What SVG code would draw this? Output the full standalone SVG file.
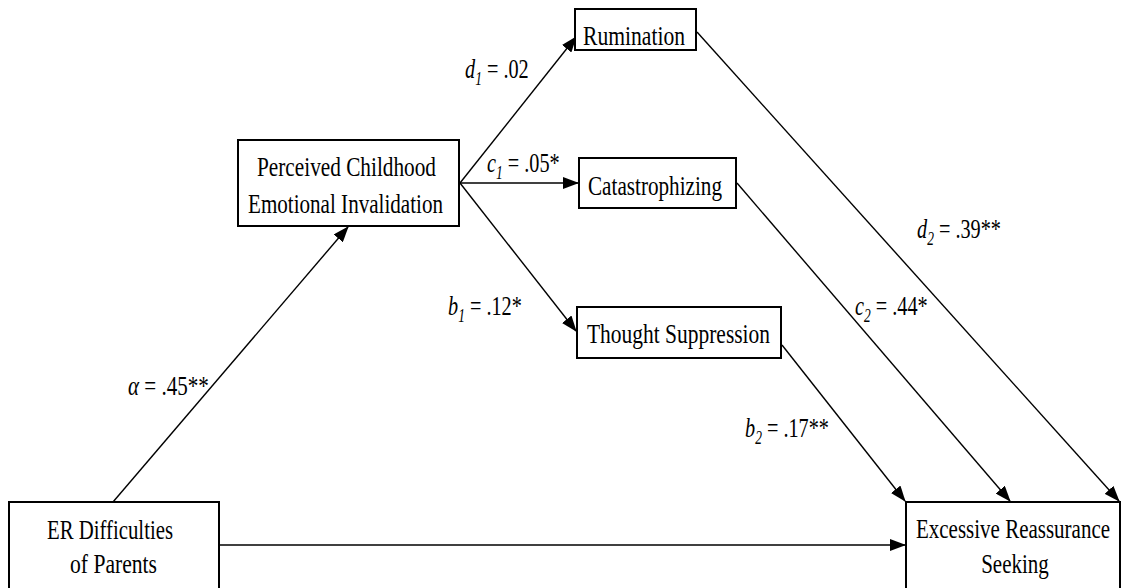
<svg xmlns="http://www.w3.org/2000/svg" width="1123" height="588" viewBox="0 0 1123 588">
<style>
text{font-family:"Liberation Serif","Times New Roman",serif;fill:#000}
.box{fill:#fff;stroke:#000;stroke-width:2}
.nt{font-size:28px}
.lb{font-size:27px}
.it{font-style:italic}
.sub{font-size:18px;font-style:italic}
.edge{stroke:#000;stroke-width:1.4;fill:none;marker-end:url(#ah)}
</style>
<defs>
<marker id="ah" markerUnits="userSpaceOnUse" markerWidth="16" markerHeight="12" viewBox="0 0 16 12" refX="15" refY="6" orient="auto">
<path d="M0,0 L16,6 L0,12 z" fill="#000"/>
</marker>
</defs>
<rect width="1123" height="588" fill="#fff"/>
<g id="connectors">
<line class="edge" x1="113" y1="502" x2="348" y2="227"/>
<line class="edge" x1="460" y1="183" x2="576" y2="37"/>
<line class="edge" x1="460" y1="183" x2="578" y2="183"/>
<line class="edge" x1="460" y1="183" x2="576" y2="331"/>
<line class="edge" x1="697" y1="32" x2="1119" y2="501"/>
<line class="edge" x1="737" y1="183" x2="1010" y2="501"/>
<line class="edge" x1="782" y1="345" x2="905" y2="501"/>
<line class="edge" x1="220" y1="545" x2="905" y2="545"/>
</g>
<g id="labels">
<text class="lb" transform="translate(465,78) scale(0.75,1)"><tspan class="it">d</tspan><tspan class="sub" dy="7">1</tspan><tspan dy="-7"> = .02</tspan></text>
<text class="lb" transform="translate(487,172) scale(0.75,1)"><tspan class="it">c</tspan><tspan class="sub" dy="7">1</tspan><tspan dy="-7"> = .05*</tspan></text>
<text class="lb" transform="translate(448,315) scale(0.75,1)"><tspan class="it">b</tspan><tspan class="sub" dy="7">1</tspan><tspan dy="-7"> = .12*</tspan></text>
<text class="lb" transform="translate(128,395) scale(0.78,1)"><tspan class="it">α</tspan> = .45**</text>
<text class="lb" transform="translate(917,238) scale(0.75,1)"><tspan class="it">d</tspan><tspan class="sub" dy="7">2</tspan><tspan dy="-7"> = .39**</tspan></text>
<text class="lb" transform="translate(855,315) scale(0.75,1)"><tspan class="it">c</tspan><tspan class="sub" dy="7">2</tspan><tspan dy="-7"> = .44*</tspan></text>
<text class="lb" transform="translate(745,437) scale(0.75,1)"><tspan class="it">b</tspan><tspan class="sub" dy="7">2</tspan><tspan dy="-7"> = .17**</tspan></text>
</g>
<g id="node-er">
<rect class="box" x="9" y="502" width="210" height="100"/>
<text class="nt" x="47" y="539" textLength="126" lengthAdjust="spacingAndGlyphs">ER Difficulties</text>
<text class="nt" x="70" y="573" textLength="87" lengthAdjust="spacingAndGlyphs">of Parents</text>
</g>
<g id="node-ers">
<rect class="box" x="906" y="502" width="214" height="100"/>
<text class="nt" text-anchor="middle" transform="translate(1013,538) scale(0.75,1)">Excessive Reassurance</text>
<text class="nt" text-anchor="middle" transform="translate(1015,573) scale(0.75,1)">Seeking</text>
</g>
<g id="node-pcei">
<rect class="box" x="238" y="140" width="221" height="86"/>
<text class="nt" x="257" y="176" textLength="179" lengthAdjust="spacingAndGlyphs">Perceived Childhood</text>
<text class="nt" x="248" y="213" textLength="195" lengthAdjust="spacingAndGlyphs">Emotional Invalidation</text>
</g>
<g id="node-rumination">
<rect class="box" x="575" y="9" width="121" height="41"/>
<text class="nt" x="583" y="45" textLength="102" lengthAdjust="spacingAndGlyphs">Rumination</text>
</g>
<g id="node-catastrophizing">
<rect class="box" x="579" y="158" width="157" height="50"/>
<text class="nt" x="588" y="195" textLength="134" lengthAdjust="spacingAndGlyphs">Catastrophizing</text>
</g>
<g id="node-thought">
<rect class="box" x="577" y="307" width="204" height="51"/>
<text class="nt" x="587" y="343" textLength="183" lengthAdjust="spacingAndGlyphs">Thought Suppression</text>
</g>
</svg>
